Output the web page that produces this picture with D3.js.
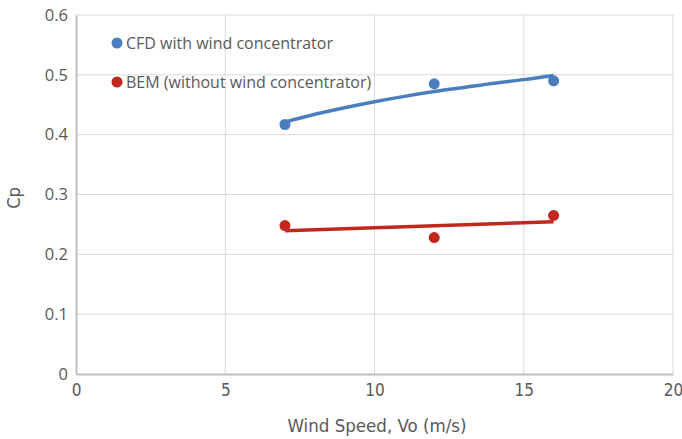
<!DOCTYPE html>
<html>
<head>
<meta charset="utf-8">
<script src="https://cdn.jsdelivr.net/npm/d3@7/dist/d3.min.js"></script>
<style>
  body { margin: 0; background: #fff; }
  text { font-family: "Liberation Sans Narrow", "DejaVu Sans Condensed", sans-serif; fill: #595959; }
  .legend text { font-family: "Open Sans", sans-serif; }
</style>
</head>
<body>
<svg id="chart" width="682" height="439"></svg>
<script>
'use strict';

// measured points
var cfdSpeed = [7, 12, 16];
var cfdCp = [0.417, 0.485, 0.490];
var bemSpeed = [7, 12, 16];
var bemCp = [0.248, 0.228, 0.265];

// trendlines
var cfdTrendSpeed = [7, 8, 9, 10, 11, 12, 13, 14, 15, 16];
var cfdTrendCp = [0.421, 0.434, 0.445, 0.455, 0.464, 0.472, 0.479, 0.486, 0.492, 0.499];
var bemTrendSpeed = [7, 16];
var bemTrendCp = [0.2395, 0.2545];

var xTicks = [0, 5, 10, 15, 20];
var yTicks = [0, 0.1, 0.2, 0.3, 0.4, 0.5, 0.6];
var seriesNames = ['CFD with wind concentrator', 'BEM (without wind concentrator)'];
var seriesColors = ['#4a7ebf', '#c0281e'];

var svg = d3.select('#chart');
var x = d3.scaleLinear().domain([0, 20]).range([76, 673]);
var y = d3.scaleLinear().domain([0, 0.6]).range([374, 15]);

// grid
svg.append('g').selectAll('line.vgrid')
    .data(xTicks.slice(1))
    .enter()
    .append('line')
    .attr('x1', function (d) { return x(d); })
    .attr('x2', function (d) { return x(d); })
    .attr('y1', y(0))
    .attr('y2', y(0.6))
    .attr('stroke', '#d9d9d9')
    .attr('stroke-width', 1);

svg.append('g').selectAll('line.hgrid')
    .data(yTicks.slice(1))
    .enter()
    .append('line')
    .attr('x1', x(0))
    .attr('x2', x(20))
    .attr('y1', function (d) { return y(d); })
    .attr('y2', function (d) { return y(d); })
    .attr('stroke', '#d9d9d9')
    .attr('stroke-width', 1);

// axes
var xAxis = d3.axisBottom(x).tickValues(xTicks).tickSize(0).tickPadding(10).tickFormat(d3.format('d'));
var yAxis = d3.axisLeft(y).tickValues(yTicks).tickSize(0).tickPadding(8).tickFormat(function (d) {
    return d === 0 ? '0' : d3.format('.1f')(d);
});

var gx = svg.append('g').attr('transform', 'translate(0,' + y(0) + ')').call(xAxis);
var gy = svg.append('g').attr('transform', 'translate(' + x(0) + ',0)').call(yAxis);

[gx, gy].forEach(function (g) {
    g.select('.domain').attr('stroke', '#bfbfbf').attr('stroke-width', 2);
    g.selectAll('.tick text')
        .attr('fill', '#595959')
        .style('font-size', '17px')
        .style('font-family', '"Liberation Sans Narrow", "DejaVu Sans Condensed", sans-serif');
});
gy.selectAll('.tick text').style('font-family', '"Open Sans", sans-serif').style('font-size', '16.5px');

// axis titles
svg.append('text')
    .attr('x', 377)
    .attr('y', 432)
    .attr('text-anchor', 'middle')
    .attr('textLength', 179)
    .attr('lengthAdjust', 'spacingAndGlyphs')
    .style('font-size', '17.5px')
    .text('Wind Speed, Vo (m/s)');

svg.append('text')
    .attr('transform', 'translate(20,198) rotate(-90)')
    .attr('text-anchor', 'middle')
    .style('font-size', '18px')
    .text('Cp');

// trendlines
var line = d3.line()
    .x(function (d) { return x(d[0]); })
    .y(function (d) { return y(d[1]); })
    .curve(d3.curveMonotoneX);

svg.append('path')
    .datum(d3.zip(cfdTrendSpeed, cfdTrendCp))
    .attr('d', line)
    .attr('fill', 'none')
    .attr('stroke', seriesColors[0])
    .attr('stroke-width', 3.5);

svg.append('path')
    .datum(d3.zip(bemTrendSpeed, bemTrendCp))
    .attr('d', line)
    .attr('fill', 'none')
    .attr('stroke', seriesColors[1])
    .attr('stroke-width', 3.5);

// markers
svg.append('g').selectAll('circle')
    .data(d3.zip(cfdSpeed, cfdCp))
    .enter()
    .append('circle')
    .attr('cx', function (d) { return x(d[0]); })
    .attr('cy', function (d) { return y(d[1]); })
    .attr('r', 5.5)
    .attr('fill', seriesColors[0]);

svg.append('g').selectAll('circle')
    .data(d3.zip(bemSpeed, bemCp))
    .enter()
    .append('circle')
    .attr('cx', function (d) { return x(d[0]); })
    .attr('cy', function (d) { return y(d[1]); })
    .attr('r', 5.5)
    .attr('fill', seriesColors[1]);

// legend
var legend = svg.append('g').attr('class', 'legend');
var items = legend.selectAll('g')
    .data(seriesNames)
    .enter()
    .append('g')
    .attr('transform', function (d, i) {
        return 'translate(117,' + (43 + i * 39) + ')';
    });

items.append('circle')
    .attr('r', 5.5)
    .attr('fill', function (d, i) { return seriesColors[i]; });

items.append('text')
    .attr('x', 9)
    .attr('dy', '0.35em')
    .style('font-size', '16px')
    .text(function (d) { return d; });
</script>
</body>
</html>
